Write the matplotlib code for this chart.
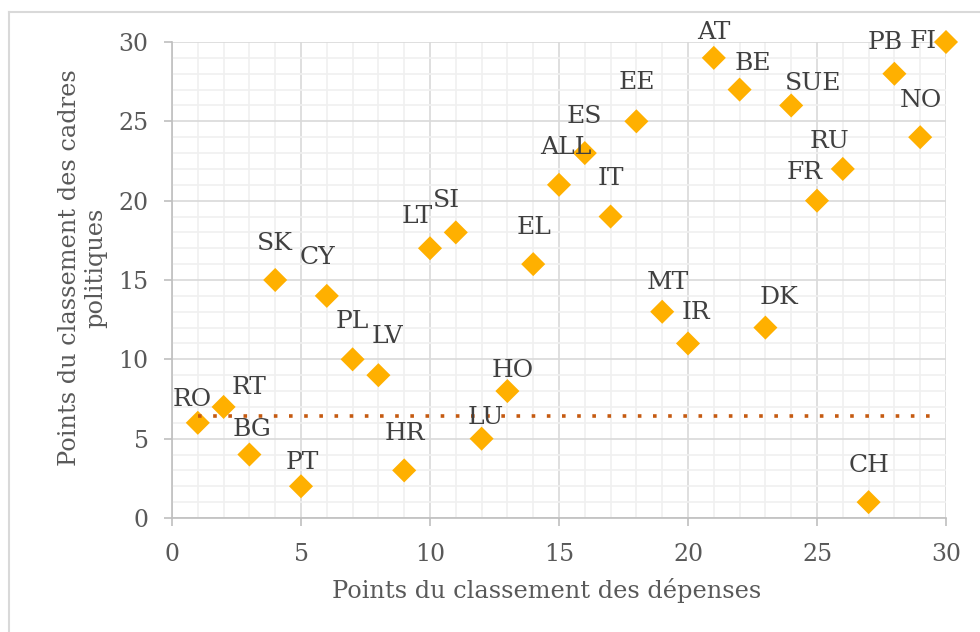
import matplotlib
matplotlib.use("Agg")
import matplotlib.pyplot as plt
from matplotlib.lines import Line2D
from matplotlib.ticker import MultipleLocator

# ---- data ----
labels = ["RO", "RT", "BG", "SK", "PT", "CY", "PL", "LV", "HR", "LT",
          "SI", "LU", "HO", "EL", "ALL", "ES", "IT", "EE", "MT", "IR",
          "AT", "BE", "DK", "SUE", "FR", "RU", "CH", "PB", "NO", "FI"]
spend_points = [1, 2, 3, 4, 5, 6, 7, 8, 9, 10,
                11, 12, 13, 14, 15, 16, 17, 18, 19, 20,
                21, 22, 23, 24, 25, 26, 27, 28, 29, 30]
policy_points = [6, 7, 4, 15, 2, 14, 10, 9, 3, 17,
                 18, 5, 8, 16, 21, 23, 19, 25, 13, 11,
                 29, 27, 12, 26, 20, 22, 1, 28, 24, 30]
trend_x = [1, 29.7]
trend_y = [6.4, 6.4]
x_ticks = [0, 5, 10, 15, 20, 25, 30]
y_ticks = [0, 5, 10, 15, 20, 25, 30]

# label offsets in pixels (dx, dy) relative to the marker (up = positive)
label_offsets = {
    "RO": (-6, 23), "RT": (25, 19), "BG": (3, 25), "SK": (0, 37), "PT": (1, 24),
    "CY": (-9, 38), "PL": (0, 38), "LV": (9, 39), "HR": (1, 37), "LT": (-13, 32),
    "SI": (-9, 32), "LU": (4, 21), "HO": (5, 21), "EL": (1, 37), "ALL": (7, 37),
    "ES": (0, 37), "IT": (0, 38), "EE": (0, 39), "MT": (6, 29), "IR": (8, 31),
    "AT": (0, 25), "BE": (13, 26), "DK": (14, 30), "SUE": (22, 22), "FR": (-12, 28),
    "RU": (-13, 27), "CH": (0, 37), "PB": (-9, 31), "NO": (1, 37), "FI": (-23, 0),
}

SERIF = ["DejaVu Serif", "Liberation Serif"]
plt.rcParams["font.family"] = SERIF

fig = plt.figure(figsize=(9.8, 6.32), dpi=100)
ax = fig.add_axes([172 / 980, 1 - 518 / 632, (946 - 172) / 980, (518 - 42) / 632])

ax.set_xlim(0, 30)
ax.set_ylim(0, 30)
ax.xaxis.set_minor_locator(MultipleLocator(1))
ax.yaxis.set_minor_locator(MultipleLocator(1))
ax.set_xticks(x_ticks)
ax.set_yticks(y_ticks)

ax.grid(which="minor", color="#F0F0F0", linewidth=1.2, zorder=0)
ax.grid(which="major", color="#D9D9D9", linewidth=1.2, zorder=0)
ax.set_axisbelow(True)

for s in ["top", "right"]:
    ax.spines[s].set_visible(False)
for s in ["left", "bottom"]:
    ax.spines[s].set_color("#BFBFBF")
    ax.spines[s].set_linewidth(1.2)

ax.tick_params(which="major", direction="out", length=5.8, width=1.2, color="#BFBFBF",
               labelsize=17, labelcolor="#595959")
ax.tick_params(axis="x", which="major", pad=12)
ax.tick_params(axis="y", which="major", pad=11)
ax.tick_params(which="minor", length=0)

ax.scatter(spend_points, policy_points, marker="D", s=150, color="#FFB000",
           edgecolors="none", zorder=3, clip_on=False)

ax.plot(trend_x, trend_y, linestyle=(0, (1, 3.2)), color="#C55A11", linewidth=2.6,
        zorder=3.5, clip_on=False)

for lab, x, y in zip(labels, spend_points, policy_points):
    dx, dy = label_offsets[lab]
    ax.annotate(lab, (x, y), xytext=(dx, dy), textcoords="offset pixels",
                ha="center", va="center", fontsize=18, color="#404040", zorder=4)

ax.set_xlabel("Points du classement des dépenses", fontsize=17.3, color="#595959")
ax.xaxis.set_label_coords((546.5 - 172) / 774, (518 - 578) / 476)
ax.set_ylabel("Points du classement des cadres\npolitiques", fontsize=17.3, color="#595959",
              linespacing=1.15)
ax.yaxis.set_label_coords((107 - 172) / 774, (518 - 268) / 476)

# chart area frame
fig.add_artist(Line2D([9 / 980, 9 / 980], [0, 1 - 12 / 632], transform=fig.transFigure,
                      color="#D9D9D9", linewidth=1.5))
fig.add_artist(Line2D([9 / 980, 1], [1 - 12 / 632, 1 - 12 / 632], transform=fig.transFigure,
                      color="#D9D9D9", linewidth=1.5))

fig.savefig("out.png", dpi=100, facecolor="white")
